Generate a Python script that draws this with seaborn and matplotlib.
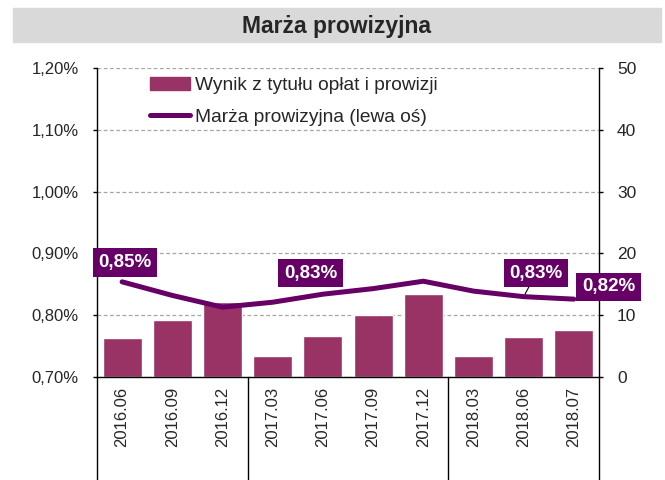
import numpy as np
import matplotlib
matplotlib.use("Agg")
import matplotlib.pyplot as plt
import matplotlib.ticker as ticker
import matplotlib.transforms as mtransforms
from matplotlib.patches import Rectangle
from matplotlib.lines import Line2D
import seaborn as sns

# data
periods = ["2016.06", "2016.09", "2016.12", "2017.03", "2017.06",
           "2017.09", "2017.12", "2018.03", "2018.06", "2018.07"]
fee_income = [6.3, 9.2, 12.1, 3.4, 6.7, 10.1, 13.5, 3.4, 6.5, 7.6]
margin = [0.854, 0.832, 0.813, 0.821, 0.834, 0.843, 0.855, 0.839, 0.830, 0.826]
left_ticks = [0.70, 0.80, 0.90, 1.00, 1.10, 1.20]
right_ticks = [0, 10, 20, 30, 40, 50]

# labelled points: (index, text)
point_labels = [(0, "0,85%"), (4, "0,83%"), (8, "0,83%"), (9, "0,82%")]

BAR_COLOR = "#993366"
LINE_COLOR = "#660066"

sns.set_style("white")
plt.rcParams["font.family"] = ["Liberation Sans", "DejaVu Sans"]
plt.rcParams["font.size"] = 12

fig = plt.figure(figsize=(6.65, 4.8), dpi=100)
ax = fig.add_axes([97 / 665, 1 - 377 / 480, 502 / 665, 309 / 480])

# title band
fig.patches.append(Rectangle((12.5 / 665, 1 - 42.3 / 480), 648 / 665, 34 / 480,
                             transform=fig.transFigure, color="#D9D9D9", zorder=0))
fig.text(337 / 665, 1 - 26 / 480, "Marża prowizyjna", ha="center", va="center",
         fontsize=16.5, fontweight="bold")

# bars on the right axis
sns.barplot(x=periods, y=fee_income, ax=ax, color=BAR_COLOR, saturation=1,
            width=0.78, zorder=2)
ax.set_xlim(-0.5, len(periods) - 0.5)
ax.set_ylim(right_ticks[0], right_ticks[-1])
ax.set_yticks(right_ticks)
ax.set_xlabel("")
ax.set_ylabel("")
ax.set_axisbelow(True)
ax.grid(axis="y", color="#A6A6A6", linestyle=(0, (3, 2)), linewidth=0.9)
ax.grid(axis="x", visible=False)

# category ticks and separators
ax.tick_params(axis="x", which="major", length=0, pad=7, labelsize=12,
               labelrotation=90)
ax.set_xticks(np.arange(len(periods) + 1) - 0.5, minor=True)
ax.tick_params(axis="x", which="minor", length=52, width=1, color="black",
               direction="out")
for lbl in ax.get_xticklabels():
    lbl.set_va("top")

years = [p[:4] for p in periods]
seps = [-0.5] + [i - 0.5 for i in range(1, len(years)) if years[i] != years[i - 1]] \
    + [len(years) - 0.5]
trans = mtransforms.blended_transform_factory(ax.transData, ax.transAxes)
for s in seps:
    ax.add_line(Line2D([s, s], [0, -0.34], transform=trans, color="black",
                       linewidth=1, clip_on=False))

for side in ["left", "right", "bottom"]:
    ax.spines[side].set_color("black")
    ax.spines[side].set_linewidth(1)
ax.spines["top"].set_visible(False)

# margin line on the left axis
ax2 = ax.twinx()
# twinx moves the original ticks to the left, so put them back on the right
ax.yaxis.tick_right()
ax.tick_params(axis="y", length=3, width=1, color="black", pad=10,
               direction="out", labelsize=12.5)

x_pos = np.arange(len(periods))
sns.lineplot(x=x_pos, y=margin, ax=ax2, color=LINE_COLOR, linewidth=3.6,
             solid_capstyle="round", solid_joinstyle="round")
ax2.set_ylim(left_ticks[0], left_ticks[-1])
ax2.set_yticks(left_ticks)
ax2.yaxis.tick_left()
ax2.yaxis.set_major_formatter(
    ticker.FuncFormatter(lambda v, p: f"{v:.2f}%".replace(".", ",")))
ax2.tick_params(axis="y", length=3, width=1, color="black", pad=10,
                direction="out", labelsize=12)
ax2.set_ylabel("")
for side in ax2.spines:
    ax2.spines[side].set_visible(False)

offsets = {0: (2, 14), 4: (-9, 15), 8: (9, 17), 9: (25, 9)}
for idx, txt in point_labels:
    arrow = dict(arrowstyle="-", color="black", lw=0.8, shrinkA=0, shrinkB=2) \
        if idx == 8 else None
    ax2.annotate(txt, xy=(x_pos[idx], margin[idx]), xytext=offsets[idx],
                 textcoords="offset points", ha="center", va="center",
                 color="white", fontsize=13.5, fontweight="bold",
                 bbox=dict(boxstyle="square,pad=0.3", fc=LINE_COLOR, ec="none"),
                 arrowprops=arrow, annotation_clip=False, zorder=5)

handles = [Rectangle((0, 0), 1, 1, color=BAR_COLOR),
           Line2D([0], [0], color=LINE_COLOR, linewidth=3.6, solid_capstyle="round")]
ax2.legend(handles, ["Wynik z tytułu opłat i prowizji", "Marża prowizyjna (lewa oś)"],
           loc="upper left", bbox_to_anchor=(0.105, 0.972), frameon=False,
           fontsize=13.8, handlelength=2.1, handletextpad=0.27, labelspacing=0.75,
           borderpad=0, borderaxespad=0)

fig.savefig("out.png", dpi=100, facecolor="white")
